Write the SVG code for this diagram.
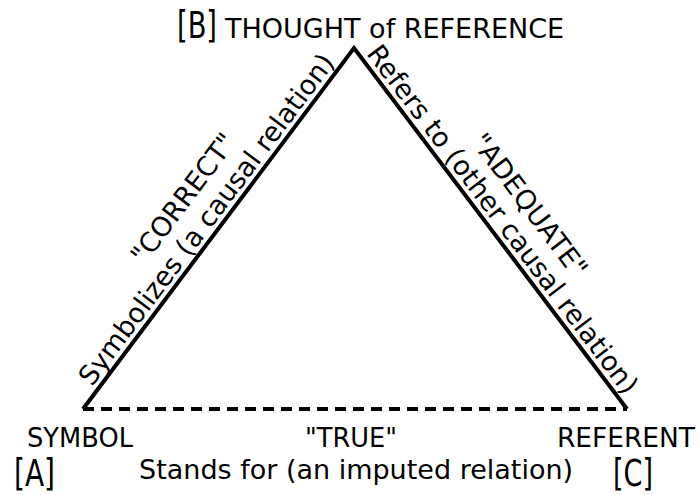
<svg xmlns="http://www.w3.org/2000/svg" width="698" height="495" viewBox="0 0 698 495">
  <style>
    text { font-family: "DejaVu Sans", "Liberation Sans", sans-serif; fill: #000; }
    .lbl { font-size: 27px; }
    .br { font-size: 37px; }
    .edge { fill: none; stroke: #000; stroke-width: 4; stroke-linejoin: miter; }
    .dash { stroke-dasharray: 11 7; }
  </style>
  <rect width="698" height="495" fill="#fff"/>
  <g id="connectors">
    <path id="edge-AB-BC" class="edge" d="M83,409 L354,48 L627,409"/>
    <line id="edge-AC" class="edge dash" x1="83" y1="409" x2="627" y2="409"/>
    <g id="label-AB" transform="translate(218.5,228.5) rotate(-53.1)">
      <text class="lbl" x="0" y="-6" text-anchor="middle">Symbolizes (a causal relation)</text>
      <text class="lbl" x="3" y="-37" text-anchor="middle">"CORRECT"</text>
    </g>
    <g id="label-BC" transform="translate(490.5,228.5) rotate(52.9)">
      <text class="lbl" x="0" y="-6" text-anchor="middle">Refers to (other causal relation)</text>
      <text class="lbl" x="5" y="-36" text-anchor="middle">"ADEQUATE"</text>
    </g>
    <g id="label-AC">
      <text class="lbl" x="305" y="447" textLength="92" lengthAdjust="spacingAndGlyphs">"TRUE"</text>
      <text class="lbl" x="139" y="479">Stands for (an imputed relation)</text>
    </g>
  </g>
  <g id="node-B">
    <text class="br" x="177" y="38" textLength="40" lengthAdjust="spacingAndGlyphs">[B]</text>
    <text class="lbl" x="225" y="38">THOUGHT of REFERENCE</text>
  </g>
  <g id="node-A">
    <text class="lbl" x="27" y="447" textLength="106" lengthAdjust="spacingAndGlyphs">SYMBOL</text>
    <text class="br" x="14" y="486" textLength="41" lengthAdjust="spacingAndGlyphs">[A]</text>
  </g>
  <g id="node-C">
    <text class="lbl" x="557" y="447" textLength="138" lengthAdjust="spacingAndGlyphs">REFERENT</text>
    <text class="br" x="613" y="486" textLength="40" lengthAdjust="spacingAndGlyphs">[C]</text>
  </g>
</svg>
